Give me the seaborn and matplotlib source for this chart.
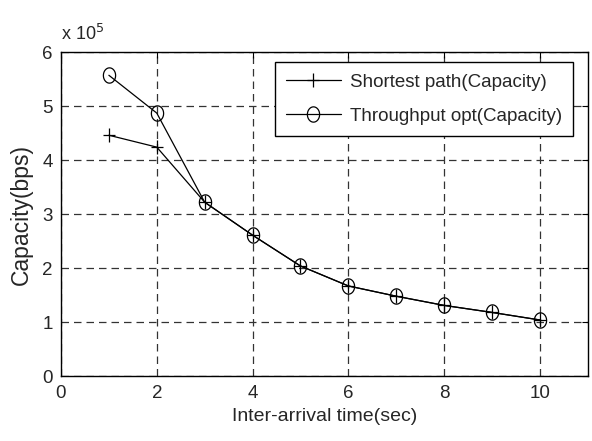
import matplotlib
matplotlib.use("Agg")
import matplotlib.pyplot as plt
import seaborn as sns
import numpy as np
from matplotlib.path import Path

x_vals = [1, 2, 3, 4, 5, 6, 7, 8, 9, 10]
shortest = [4.46, 4.24, 3.22, 2.61, 2.04, 1.67, 1.48, 1.31, 1.18, 1.04]
throughput = [5.57, 4.87, 3.22, 2.61, 2.04, 1.67, 1.48, 1.31, 1.18, 1.04]
labels = ["Shortest path(Capacity)", "Throughput opt(Capacity)"]

sns.set_style("white")
plt.rcParams['font.family'] = ['Liberation Sans', 'DejaVu Sans']

# vertically stretched marker shapes (the reference image is stretched)
t = np.linspace(0, 2 * np.pi, 61)
ellipse = Path(np.column_stack([0.8 * np.cos(t), np.sin(t)]), closed=True)
plus = Path([(-0.9, 0), (0.9, 0), (0, -1), (0, 1)],
            [Path.MOVETO, Path.LINETO, Path.MOVETO, Path.LINETO])

fig = plt.figure(figsize=(5.92, 4.41), dpi=100)
ax = fig.add_axes([0.103, 0.147, 0.890, 0.735])

sns.lineplot(x=x_vals, y=shortest, color="black", marker=plus, markersize=10,
             markeredgecolor="black", markeredgewidth=0.9, linewidth=0.9,
             label=labels[0], ax=ax)
sns.lineplot(x=x_vals, y=throughput, color="black", marker=ellipse, markersize=11,
             markerfacecolor="none", markeredgecolor="black",
             markeredgewidth=0.9, linewidth=0.9, label=labels[1], ax=ax)

ax.set_xlim(0, 11)
ax.set_ylim(0, 6)
ax.set_xticks([0, 2, 4, 6, 8, 10])
ax.set_yticks([0, 1, 2, 3, 4, 5, 6])
ax.tick_params(direction="in", labelsize=13.5, length=4, color="black",
               top=True, right=True, pad=6)
ax.grid(True, linestyle=(0, (6, 4)), color="#333333", linewidth=0.9)
for s in ax.spines.values():
    s.set_color("black")
    s.set_linewidth(1.0)
ax.set_xlabel("Inter-arrival time(sec)", fontsize=14, labelpad=5)
ax.set_ylabel("Capacity(bps)", fontsize=16.5, labelpad=7)
ax.text(0.0, 1.025, r"x 10$^{5}$", transform=ax.transAxes, fontsize=13, ha="left", va="bottom")

leg = ax.legend(loc="upper right", bbox_to_anchor=(0.983, 0.986), fontsize=13.5,
                frameon=True, fancybox=False, edgecolor="black", framealpha=1,
                handlelength=2.9, handletextpad=0.5, borderpad=0.6,
                labelspacing=0.9, borderaxespad=0.3)
leg.get_frame().set_linewidth(1.0)

fig.savefig("out.png", dpi=100)
